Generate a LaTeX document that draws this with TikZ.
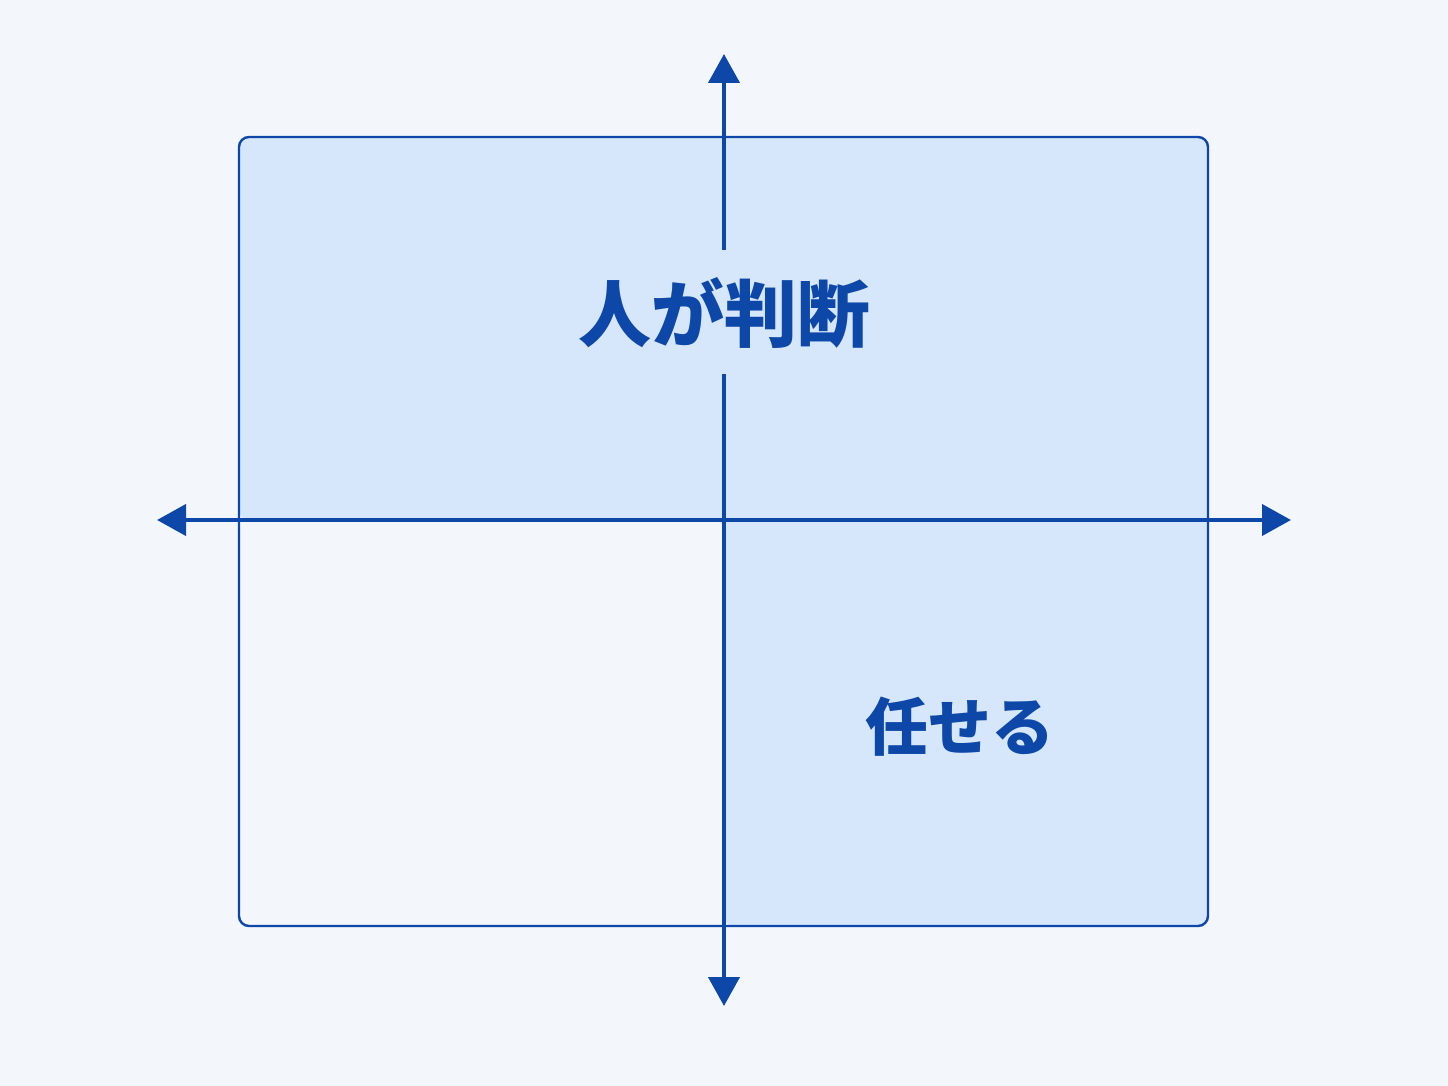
\documentclass[tikz,border=0pt]{standalone}
\usepackage{fontspec}
\newfontfamily\cjk{Noto Sans CJK JP}
\usetikzlibrary{arrows.meta}
\definecolor{bgc}{HTML}{F3F7FC}
\definecolor{fillc}{HTML}{D6E7FB}
\definecolor{axisc}{HTML}{0D47A8}
\tikzset{
  axis/.style={draw=axisc, line width=2.1pt, -{Triangle[width=15.5pt,length=14.5pt]}},
  frame/.style={draw=axisc, line width=1.2pt, rounded corners=5pt},
  lab/.style={text=axisc, font=\cjk\bfseries, inner sep=0pt, anchor=center}
}
\begin{document}
\begin{tikzpicture}[x=0.5pt,y=-0.5pt]
\fill[bgc] (0,0) rectangle (1448,1086);
\useasboundingbox (0,0) rectangle (1448,1086);
% filled regions
\fill[fillc, rounded corners=5pt] (239,520) -- (239,137) -- (1208,137) -- (1208,926) -- (724,926) -- (724,520) -- cycle;
\node[frame, minimum width=484.5pt, minimum height=394.5pt, inner sep=0pt] (box) at (723.5,531.5) {};
% texts
\node[lab, font=\cjk\bfseries\fontsize{36.5pt}{40pt}\selectfont] (judge) at (724,313) {人が判断};
\node[lab, font=\cjk\bfseries\fontsize{31.5pt}{34pt}\selectfont] (delegate) at (960,727) {任せる};
% axes
\coordinate (top) at (724,54);
\coordinate (bottom) at (724,1006);
\coordinate (left) at (157,520);
\coordinate (right) at (1291,520);
\coordinate (gapA) at (724,250);
\coordinate (gapB) at (724,374);
\draw[axis] (gapA) -- (top);
\draw[axis] (gapB) -- (bottom);
\draw[axis, {Triangle[width=15.5pt,length=14.5pt]}-{Triangle[width=15.5pt,length=14.5pt]}] (left) -- (right);
\end{tikzpicture}
\end{document}
